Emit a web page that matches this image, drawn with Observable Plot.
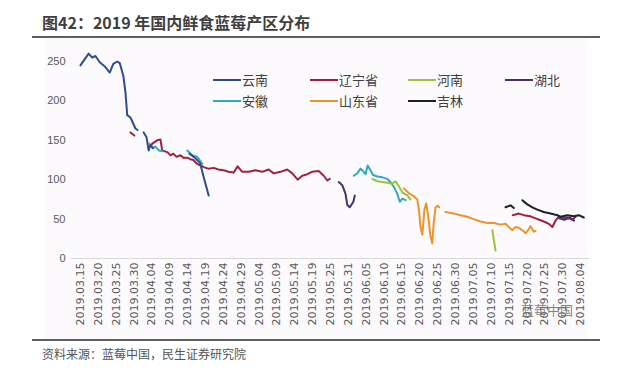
<!DOCTYPE html>
<html>
<head>
<meta charset="utf-8">
<script src="https://cdn.jsdelivr.net/npm/d3@7"></script>
<script src="https://cdn.jsdelivr.net/npm/@observablehq/plot@0.6"></script>
<style>
  html, body { margin: 0; padding: 0; background: #ffffff; }
  #wrap { position: relative; width: 618px; height: 376px; overflow: hidden; font-family: "Noto Sans CJK SC", "Noto Sans", sans-serif; }
  .abs { position: absolute; }
  #title { left: 42px; top: 12px; font-size: 16px; line-height: 20px; font-weight: bold; color: #3f3f3f; white-space: nowrap; }
  .rule { left: 32px; width: 568px; height: 2px; background: #5f5f5f; }
  #panel { left: 44px; top: 38px; width: 544px; height: 302px; background: #fcfafc; }
  #chart { left: 0; top: 38px; }
  #footer { left: 42px; top: 345px; font-size: 12px; line-height: 18px; color: #555; white-space: nowrap; }
  .leg { position: absolute; display: flex; align-items: center; font-size: 13px; line-height: 16px; color: #404040; white-space: nowrap; }
  .leg span.sw { display: inline-block; width: 28px; height: 2.5px; margin-right: 1px; }
  #wm { left: 521px; top: 302px; font-size: 13px; line-height: 16px; color: rgba(110,110,110,0.85); white-space: nowrap; }
</style>
</head>
<body>
<div id="wrap">
  <div id="panel" class="abs"></div>
  <div id="title" class="abs">图42：2019 年国内鲜食蓝莓产区分布</div>
  <div class="abs rule" style="top:36px"></div>
  <div id="chart" class="abs"></div>
  <div id="legend"></div>
  <div id="wm" class="abs">蓝莓中国</div>
  <div class="abs rule" style="top:339px"></div>
  <div id="footer" class="abs">资料来源：蓝莓中国，民生证券研究院</div>
</div>
<script>
// x tick labels (category axis; one label every 5 days, day index = 5 * label index)
const xLabels = ["2019.03.15","2019.03.20","2019.03.25","2019.03.30","2019.04.04","2019.04.09","2019.04.14","2019.04.19","2019.04.24","2019.04.29","2019.05.04","2019.05.09","2019.05.14","2019.05.19","2019.05.25","2019.05.31","2019.06.05","2019.06.10","2019.06.15","2019.06.20","2019.06.25","2019.06.30","2019.07.05","2019.07.10","2019.07.15","2019.07.20","2019.07.25","2019.07.30","2019.08.04"];
const yTicks = [0, 50, 100, 150, 200, 250];

const seriesNames = ["云南", "辽宁省", "河南", "湖北", "安徽", "山东省", "吉林"];
const seriesColors = ["#2d4d8c", "#a3213d", "#9cc43a", "#46316d", "#2ea9c2", "#f0922a", "#1c1f2e"];

// each series: list of segments, each segment: [dayIndex, price]
const yunnan = [
  [[0,245],[2.3,260],[3.3,255],[4.2,257],[5.4,249],[7,243],[8.2,236],[9.2,247],[10.3,250],[11,248],[12,232],[12.6,211],[13.1,182],[14,179],[14.8,171],[15.4,165],[16,163]],
  [[17.7,160],[18.5,154],[19.1,137],[19.6,144],[20.3,140]],
  [[30.5,133],[32,128],[33.5,121],[34.7,100],[35.9,80]]
];
const liaoning = [
  [[14,160],[15.1,156]],
  [[19.1,141],[20.2,146],[21.5,150],[22.4,151],[22.9,137],[24.3,135],[25.2,131],[26,133],[26.9,129],[28,131],[28.8,128],[29.9,128],[30.8,126],[31.6,125],[32.7,120],[33.6,118],[34.5,116],[35.8,114],[37.3,115],[38.6,113],[40.1,112],[41.4,110],[42.9,109],[44,117],[45.3,110],[47.1,110],[49,112],[50.9,110],[52.7,113],[54.1,108],[56,110],[57.9,113],[59.3,108],[60.8,100],[62.1,105],[63.5,107],[64.8,110],[66.7,111],[68.1,105],[69.1,99],[69.8,101]],
  [[121,55],[122.7,57],[124.1,55],[126,53.5],[127.4,51],[128.8,48.5],[130.2,46],[131.1,44],[132.1,40],[133,48],[133.9,53],[134.9,51],[136.3,52],[137.7,49],[138.6,53]]
];
const henan = [
  [[81.7,101],[83.1,98],[84.5,97],[85.9,96],[87.3,95],[88.2,98],[89.2,91],[90.1,84],[91.5,80],[92.4,75]],
  [[115.3,36],[116.2,10]]
];
const hubei = [
  [[72.3,97],[73.3,93],[74.2,82],[74.7,68],[75.4,65],[76.4,72],[76.8,80]],
  [[134,51],[135.5,49],[137,52],[138.2,48]]
];
const anhui = [
  [[19.3,146],[20.2,140],[21,142],[22,137],[23,136]],
  [[29.9,137],[31.3,131],[32.7,129],[34.1,120]],
  [[76.5,105],[77.5,108],[78.4,114],[79.1,111],[79.8,107],[80.4,118],[81.2,112],[81.9,106],[83.1,104],[84.5,103],[85.9,101],[86.8,97],[87.7,91],[88.7,82],[89.4,72],[90.1,76],[91,74]]
];
const shandong = [
  [[90.5,89],[91.9,83],[93.3,79],[94.3,75],[94.8,60],[95.2,40],[95.7,30],[96.3,62],[96.8,70],[97.3,55],[98,28],[98.5,19],[98.9,46],[99.4,65],[100,67],[100.4,65]],
  [[102.2,59],[104.5,57],[106.4,55],[108.3,53],[110.1,50],[112,47],[113.9,45],[115.7,45],[117.6,43],[119,44],[119.9,40],[120.9,36],[121.8,40],[122.7,39],[123.7,36],[124.6,32],[125.5,37],[126,41],[126.9,34],[127.4,35]]
];
const jilin = [
  [[119,65],[120.4,67.5],[121.3,64]],
  [[123.7,74],[125,69],[126.5,65],[127.9,62],[129.7,59],[131.6,57],[133.5,55],[134.4,53],[136.3,55],[138.1,53.5],[139.5,55],[140.9,52]]
];

// drawing order (later on top)
const seriesData = [
  ["辽宁省", liaoning], ["安徽", anhui], ["云南", yunnan], ["河南", henan],
  ["山东省", shandong], ["湖北", hubei], ["吉林", jilin]
];

const rows = [];
for (const [name, segs] of seriesData) {
  segs.forEach((seg, si) => {
    for (const [d, v] of seg) rows.push({series: name, key: name + "-" + si, d, v});
  });
}

const chart = Plot.plot({
  width: 618,
  height: 300,
  marginLeft: 71,
  marginRight: 29,
  marginTop: 23,
  marginBottom: 80,
  style: {background: "transparent", fontFamily: "'Liberation Sans', Arial, sans-serif", overflow: "visible"},
  x: {domain: [-2.5, 142.5]},
  y: {domain: [0, 250]},
  color: {domain: seriesNames, range: seriesColors},
  marks: [
    Plot.ruleY([0], {stroke: "#d9d9d9", strokeWidth: 1}),
    Plot.axisY({ticks: yTicks, tickSize: 0, tickPadding: 6, fontSize: 11, fill: "#595959", label: null}),
    Plot.axisX({
      ticks: xLabels.map((_, i) => i * 5),
      tickFormat: d => xLabels[Math.round(d / 5)],
      tickSize: 0, tickPadding: 4, tickRotate: -90,
      fontSize: 11, fill: "#595959", label: null,
      fontFamily: "'DejaVu Sans', sans-serif"
    }),
    Plot.line(rows, {x: "d", y: "v", z: "key", stroke: "series", strokeWidth: 2, curve: "linear"})
  ]
});
document.getElementById("chart").appendChild(chart);

// legend (two rows, inside plot area)
const legendPos = {
  "云南": [213, 72], "辽宁省": [310, 72], "河南": [408, 72], "湖北": [505, 72],
  "安徽": [213, 93], "山东省": [310, 93], "吉林": [408, 93]
};
const legend = document.getElementById("legend");
seriesNames.forEach((name, i) => {
  const [lx, ly] = legendPos[name];
  const el = document.createElement("div");
  el.className = "leg";
  el.style.left = lx + "px";
  el.style.top = ly + "px";
  el.innerHTML = `<span class="sw" style="background:${seriesColors[i]}"></span>${name}`;
  legend.appendChild(el);
});
</script>
</body>
</html>
